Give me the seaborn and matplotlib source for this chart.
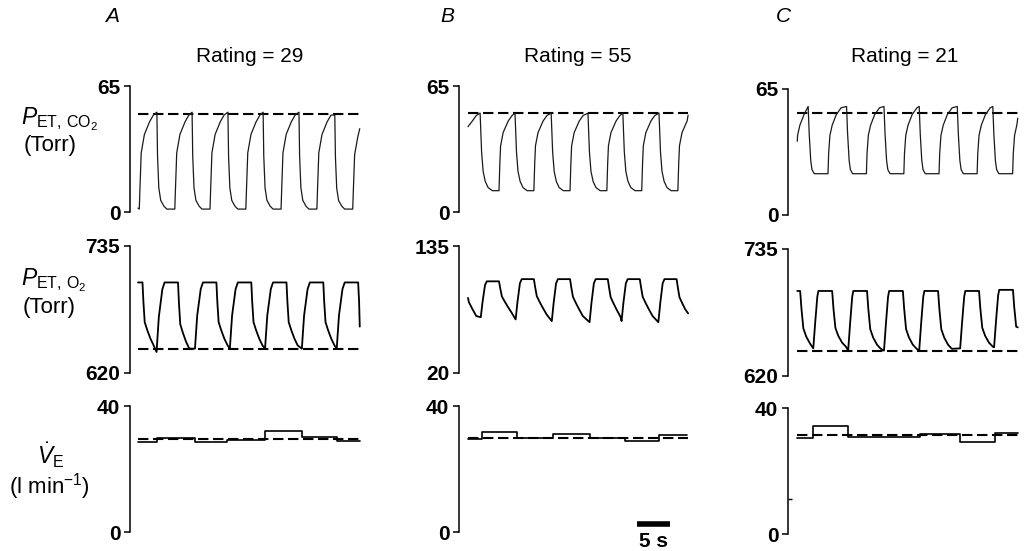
import numpy as np
import pandas as pd
import seaborn as sns
import matplotlib.pyplot as plt

sns.set_style("white")
plt.rcParams["font.family"] = ["Liberation Sans", "DejaVu Sans"]
plt.rcParams["mathtext.fontset"] = "custom"
plt.rcParams["mathtext.rm"] = "Liberation Sans"
plt.rcParams["mathtext.it"] = "Liberation Sans:italic"
plt.rcParams["mathtext.bf"] = "Liberation Sans:bold"
for k in ["text.color", "axes.labelcolor", "xtick.color", "ytick.color", "axes.edgecolor"]:
    plt.rcParams[k] = "black"

# ---- data (time in s from the left axis line of each panel) ----
panels = ["A", "B", "C"]
ratings = [29, 55, 21]
t_span = [(1.25, 35.9), (1.4, 35.8), (1.45, 35.9)]

# end-tidal CO2 (Torr): time of each expiratory drop, peak and trough per cycle
co2_drops = [[-1.35, 4.2, 9.7, 15.3, 20.8, 26.4, 32.0],
             [-2.3, 3.3, 8.75, 14.4, 20.15, 25.6, 31.25],
             [-1.9, 3.15, 9.15, 15.0, 20.5, 26.45, 32.0]]
co2_peaks = [[51.5, 51.5, 51.5, 51.5, 51.5, 51.5, 50.0],
             [51.0, 51.0, 51.0, 51.0, 51.0, 51.0, 51.0],
             [56.0, 56.0, 56.0, 56.0, 56.0, 56.0, 56.0]]
co2_troughs = [[1.5, 1.5, 1.5, 1.5, 1.5, 1.5, 1.5],
               [11.0, 11.0, 11.0, 11.0, 11.0, 11.0, 11.0],
               [21.3, 21.3, 21.3, 21.3, 21.3, 21.3, 21.3]]
co2_first = [2.0, 44.0, 38.0]
co2_last = [43.0, 50.0, 50.0]
co2_target = [50.5, 51.0, 52.7]
# shape of one cycle: (s after the drop, fraction of trough->peak)
co2_shape = [
    [(0, 1), (0.1, 0.55), (0.3, 0.22), (0.6, 0.09), (1.1, 0.03), (1.55, 0), (2.8, 0),
     (2.9, 0.2), (3.1, 0.58), (3.6, 0.77), (4.4, 0.9), (5.0, 0.97)],
    [(0, 1), (0.23, 0.5), (0.47, 0.25), (0.8, 0.12), (1.25, 0.04), (1.9, 0), (2.95, 0),
     (3.08, 0.35), (3.2, 0.58), (3.6, 0.75), (4.4, 0.9), (5.0, 0.97)],
    [(0, 1), (0.16, 0.6), (0.4, 0.2), (0.6, 0.06), (0.95, 0), (3.1, 0), (3.2, 0.3),
     (3.4, 0.57), (3.75, 0.72), (4.4, 0.88), (5.15, 0.98)],
]

# end-tidal O2 (Torr): time of each trough, plateau and trough per cycle
o2_troughs_t = [[-1.4, 4.15, 10.15, 15.6, 21.1, 26.85, 32.3],
                [-2.15, 3.4, 8.85, 14.5, 20.4, 25.4, 31.15],
                [-1.05, 3.95, 9.4, 15.0, 20.5, 26.9, 32.2]]
o2_highs = [[702, 702, 702, 702, 702, 702, 702],
            [105, 103, 105, 105, 105, 105, 105],
            [697, 697, 697, 697, 697, 697, 698]]
o2_lows = [[642, 639, 642, 642, 642, 642, 642],
           [67, 70.5, 68.5, 67, 66, 67, 66],
           [644, 645, 643, 643, 643, 645, 646]]
o2_first = [702, 88, 697]
o2_last = [662, 74, 664]
o2_target = [642, None, 643]
o2_range = [(620, 735), (20, 135), (620, 735)]
o2_shape = [
    [(0, 0), (0.35, 0.5), (0.9, 0.9), (1.25, 1.0), (3.35, 1.0), (3.5, 0.7), (3.7, 0.4),
     (4.1, 0.28), (4.6, 0.15), (5.1, 0.05)],
    [(0, 0), (0.3, 0.45), (0.67, 0.9), (0.95, 1.0), (2.85, 1.0), (3.05, 0.8), (3.3, 0.58),
     (3.7, 0.45), (4.2, 0.3), (4.85, 0.12)],
    [(0, 0), (0.3, 0.45), (0.63, 0.9), (0.8, 1.0), (2.95, 1.0), (3.15, 0.7), (3.45, 0.36),
     (3.9, 0.22), (4.5, 0.1), (5.1, 0.03)],
]

# ventilation (l/min), breath-by-breath steps
ve_edges = [[1.25, 4.15, 10.15, 15.15, 21.1, 26.85, 32.3, 35.9],
            [1.4, 3.55, 9.1, 14.65, 20.45, 25.95, 31.3, 35.6],
            [1.45, 3.85, 9.4, 20.65, 26.9, 32.35, 35.9]]
ve_levels = [[28.7, 29.9, 28.6, 29.1, 32.2, 30.3, 29.0],
             [29.5, 31.9, 29.7, 31.2, 30.0, 28.9, 30.7],
             [30.4, 34.3, 30.9, 31.7, 29.3, 32.2]]
ve_target = [29.6, 29.7, 31.4]


def cycle_trace(onsets, highs, lows, shape, t0, y0, t1, y1):
    ts, ys = [t0], [y0]
    for i, on in enumerate(onsets):
        nxt = onsets[i + 1] if i + 1 < len(onsets) else np.inf
        for dt, f in shape:
            t = on + dt
            if t0 < t < min(nxt, t1):
                ts.append(t)
                ys.append(lows[i] + f * (highs[i] - lows[i]))
    ts.append(t1)
    ys.append(y1)
    return pd.DataFrame({"t": ts, "v": ys})


# ---- layout (pixels of the 1029x551 figure) ----
W, H = 1029, 551
fig = plt.figure(figsize=(W / 100, H / 100), dpi=100)
col_left = [130, 459, 788]
row_box = [(86, 212), (246, 373), (406, 532)]
col_shift = [[0, 0, 0], [0, 0, 0], [3, 3, 2]]
ax_w = 232


def add_ax(c, r):
    top, bot = row_box[r]
    top += col_shift[c][r]
    bot += col_shift[c][r]
    return fig.add_axes([col_left[c] / W, 1 - bot / H, ax_w / W, (bot - top) / H])


def style(ax, lo, hi):
    ax.set_xlim(0, ax_w / 6.4)
    ax.set_ylim(lo, hi)
    ax.set_yticks([lo, hi])
    ax.set_yticklabels([str(lo), str(hi)], fontsize=15, fontweight="bold")
    ax.set_xticks([])
    for s in ["top", "right", "bottom"]:
        ax.spines[s].set_visible(False)
    ax.spines["left"].set_linewidth(1.1)
    ax.tick_params(axis="y", direction="out", length=4, width=1.1, pad=3, left=True)
    ax.set_xlabel("")
    ax.set_ylabel("")


def dashed(ax, c, y):
    t0, t1 = t_span[c]
    ax.plot([t0, t1], [y, y], color="black", lw=1.5, dashes=(5, 2.2))


for c in range(3):
    t0, t1 = t_span[c]

    ax = add_ax(c, 0)
    df = cycle_trace(co2_drops[c], co2_peaks[c], co2_troughs[c], co2_shape[c],
                     t0, co2_first[c], t1, co2_last[c])
    dashed(ax, c, co2_target[c])
    sns.lineplot(data=df, x="t", y="v", ax=ax, color="#1a1a1a", lw=0.9,
                 estimator=None, sort=False)
    style(ax, 0, 65)

    ax = add_ax(c, 1)
    df = cycle_trace(o2_troughs_t[c], o2_highs[c], o2_lows[c], o2_shape[c],
                     t0, o2_first[c], t1, o2_last[c])
    if o2_target[c] is not None:
        dashed(ax, c, o2_target[c])
    sns.lineplot(data=df, x="t", y="v", ax=ax, color="black", lw=1.3,
                 estimator=None, sort=False)
    style(ax, *o2_range[c])

    ax = add_ax(c, 2)
    df = pd.DataFrame({"t": ve_edges[c], "v": ve_levels[c] + [ve_levels[c][-1]]})
    dashed(ax, c, ve_target[c])
    sns.lineplot(data=df, x="t", y="v", ax=ax, color="black", lw=1.2,
                 estimator=None, sort=False, drawstyle="steps-post")
    style(ax, 0, 40)
    if c == 2:
        ax.set_yticks([11], minor=True)
        ax.tick_params(axis="y", which="minor", direction="in", length=3, width=1,
                       left=True)
    if c == 1:
        ax.plot([27.85, 32.95], [2.4, 2.4], color="black", lw=4,
                solid_capstyle="butt", clip_on=False)
        ax.text(30.4, -2.9, "5 s", ha="center", va="center", fontsize=15,
                fontweight="bold", clip_on=False)

# ---- titles and row labels ----
head_x = [112, 447, 783]
rating_x = [250, 578, 905]
for c in range(3):
    fig.text(head_x[c] / W, 1 - 17 / H, panels[c], ha="center", va="center",
             fontsize=15, style="italic")
    fig.text(rating_x[c] / W, 1 - 57 / H, f"Rating = {ratings[c]}", ha="center",
             va="center", fontsize=15)

# (symbol, left x, centre y, unit, centre x, centre y)
row_labels = [
    (r"$P_{\mathrm{ET,\,CO}_2}$", 21, 119, "(Torr)", 50, 146),
    (r"$P_{\mathrm{ET,\,O}_2}$", 21, 280, "(Torr)", 49, 308),
    (r"$\dot{V}_{\mathrm{E}}$", 37, 455, r"(l min$^{-1}$)", 49, 487),
]
for sym, sx, sy, unit, ux, uy in row_labels:
    fig.text(sx / W, 1 - sy / H, sym, ha="left", va="center", fontsize=16.5)
    fig.text(ux / W, 1 - uy / H, unit, ha="center", va="center", fontsize=16)

fig.savefig("out.png", dpi=100)
